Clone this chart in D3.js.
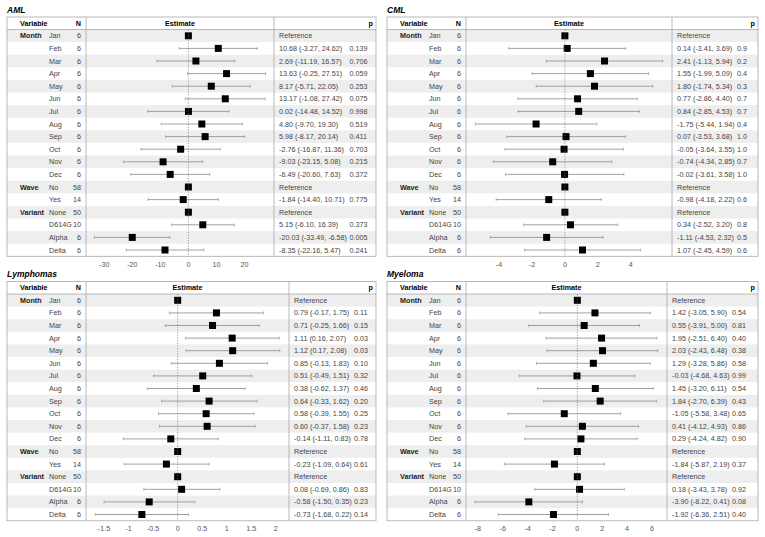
<!DOCTYPE html>
<html>
<head>
<meta charset="utf-8">
<script src="https://cdn.jsdelivr.net/npm/d3@7"></script>
<style>
  body { margin: 0; background: #fff; }
  svg { font-family: "Liberation Sans", Arial, sans-serif; }
</style>
</head>
<body>
<svg id="chart" width="765" height="537"></svg>
<script>
// rows shared by all four models
const groupLabels = ["Month", "", "", "", "", "", "", "", "", "", "", "", "Wave", "", "Variant", "", "", ""];
const levels = ["Jan", "Feb", "Mar", "Apr", "May", "Jun", "Jul", "Aug", "Sep", "Oct", "Nov", "Dec", "No", "Yes", "None", "D614G", "Alpha", "Delta"];
const nCounts = [6, 6, 6, 6, 6, 6, 6, 6, 6, 6, 6, 6, 58, 14, 50, 10, 6, 6];

// null = reference level
const amlEst = [null, 10.68, 2.69, 13.63, 8.17, 13.17, 0.02, 4.80, 5.98, -2.76, -9.03, -6.49, null, -1.84, null, 5.15, -20.03, -8.35];
const amlLo = [null, -3.27, -11.19, -0.25, -5.71, -1.08, -14.48, -9.70, -8.17, -16.87, -23.15, -20.60, null, -14.40, null, -6.10, -33.49, -22.16];
const amlHi = [null, 24.62, 16.57, 27.51, 22.05, 27.42, 14.52, 19.30, 20.14, 11.36, 5.08, 7.63, null, 10.71, null, 16.39, -6.58, 5.47];
const amlP = ["", "0.139", "0.706", "0.059", "0.253", "0.075", "0.998", "0.519", "0.411", "0.703", "0.215", "0.372", "", "0.775", "", "0.373", "0.005", "0.241"];
const amlTicks = [-30, -20, -10, 0, 10, 20];

const cmlEst = [null, 0.14, 2.41, 1.55, 1.80, 0.77, 0.84, -1.75, 0.07, -0.05, -0.74, -0.02, null, -0.98, null, 0.34, -1.11, 1.07];
const cmlLo = [null, -3.41, -1.13, -1.99, -1.74, -2.86, -2.85, -5.44, -3.53, -3.64, -4.34, -3.61, null, -4.18, null, -2.52, -4.53, -2.45];
const cmlHi = [null, 3.69, 5.94, 5.09, 5.34, 4.40, 4.53, 1.94, 3.68, 3.55, 2.85, 3.58, null, 2.22, null, 3.20, 2.32, 4.59];
const cmlP = ["", "0.9", "0.2", "0.4", "0.3", "0.7", "0.7", "0.4", "1.0", "1.0", "0.7", "1.0", "", "0.6", "", "0.8", "0.5", "0.6"];
const cmlTicks = [-4, -2, 0, 2, 4];

const lymEst = [null, 0.79, 0.71, 1.11, 1.12, 0.85, 0.51, 0.38, 0.64, 0.58, 0.60, -0.14, null, -0.23, null, 0.08, -0.58, -0.73];
const lymLo = [null, -0.17, -0.25, 0.16, 0.17, -0.13, -0.49, -0.62, -0.33, -0.39, -0.37, -1.11, null, -1.09, null, -0.69, -1.50, -1.68];
const lymHi = [null, 1.75, 1.66, 2.07, 2.08, 1.83, 1.51, 1.37, 1.62, 1.55, 1.58, 0.83, null, 0.64, null, 0.86, 0.35, 0.22];
const lymP = ["", "0.11", "0.15", "0.03", "0.03", "0.10", "0.32", "0.46", "0.20", "0.25", "0.23", "0.78", "", "0.61", "", "0.83", "0.23", "0.14"];
const lymTicks = [-1.5, -1, -0.5, 0, 0.5, 1, 1.5, 2];

const myeEst = [null, 1.42, 0.55, 1.95, 2.03, 1.29, -0.03, 1.45, 1.84, -1.05, 0.41, 0.29, null, -1.84, null, 0.18, -3.90, -1.92];
const myeLo = [null, -3.05, -3.91, -2.51, -2.43, -3.28, -4.68, -3.20, -2.70, -5.58, -4.12, -4.24, null, -5.87, null, -3.43, -8.22, -6.36];
const myeHi = [null, 5.90, 5.00, 6.40, 6.48, 5.86, 4.63, 6.11, 6.39, 3.48, 4.93, 4.82, null, 2.19, null, 3.78, 0.41, 2.51];
const myeP = ["", "0.54", "0.81", "0.40", "0.38", "0.58", "0.99", "0.54", "0.43", "0.65", "0.86", "0.90", "", "0.37", "", "0.92", "0.08", "0.40"];
const myeTicks = [-8, -6, -4, -2, 0, 2, 4, 6];

const panels = [
  { title: "AML", est: amlEst, lo: amlLo, hi: amlHi, p: amlP, ticks: amlTicks, x0: 7, x1: 376, sep: 274, y0: 0 },
  { title: "CML", est: cmlEst, lo: cmlLo, hi: cmlHi, p: cmlP, ticks: cmlTicks, x0: 387, x1: 758, sep: 672, y0: 0 },
  { title: "Lymphomas", est: lymEst, lo: lymLo, hi: lymHi, p: lymP, ticks: lymTicks, x0: 7, x1: 376, sep: 289, y0: 264.5 },
  { title: "Myeloma", est: myeEst, lo: myeLo, hi: myeHi, p: myeP, ticks: myeTicks, x0: 387, x1: 758, sep: 667, y0: 264.5 }
];

const svg = d3.select("#chart");
const fs = 7.2;
const rowH = 12.6;
const boxTop = 17, headBot = 29.5;

const drawPanel = cfg => {
  const g = svg.append("g").attr("transform", `translate(0, ${cfg.y0})`);
  const sepN = cfg.x0 + 79;
  const boxBot = headBot + rowH * levels.length;

  const all = cfg.lo.concat(cfg.hi).filter(v => v !== null);
  const [mn, mx] = d3.extent(all);
  const pad = (mx - mn) * 0.05;
  const x = d3.scaleLinear().domain([mn - pad, mx + pad]).range([sepN, cfg.sep]);
  const y = d3.scaleBand().domain(d3.range(levels.length)).range([headBot, boxBot]);

  g.append("text")
    .attr("x", cfg.x0).attr("y", 10).attr("dy", "0.35em")
    .style("font-size", "8.5px").style("font-weight", "bold").style("font-style", "italic")
    .text(cfg.title);

  // stripes
  g.selectAll(".stripe")
    .data(d3.range(levels.length).filter(i => i % 2 === 0))
    .enter().append("rect")
    .attr("x", cfg.x0).attr("width", cfg.x1 - cfg.x0)
    .attr("y", i => y(i)).attr("height", y.bandwidth())
    .attr("fill", "#eeeeee");

  // frame
  g.append("rect")
    .attr("x", cfg.x0).attr("y", boxTop)
    .attr("width", cfg.x1 - cfg.x0).attr("height", boxBot - boxTop)
    .attr("fill", "none").attr("stroke", "#a8a8a8").attr("stroke-width", 0.8);
  g.append("line").attr("x1", cfg.x0).attr("x2", cfg.x1).attr("y1", headBot).attr("y2", headBot)
    .attr("stroke", "#a8a8a8").attr("stroke-width", 0.8);
  [sepN, cfg.sep].forEach(sx => {
    g.append("line").attr("x1", sx).attr("x2", sx).attr("y1", boxTop).attr("y2", boxBot)
      .attr("stroke", "#a8a8a8").attr("stroke-width", 0.8);
  });

  // header
  const hy = (boxTop + headBot) / 2;
  const head = g.append("g").style("font-size", fs + "px").style("font-weight", "bold");
  head.append("text").attr("x", cfg.x0 + 13).attr("y", hy).attr("dy", "0.35em").text("Variable");
  head.append("text").attr("x", cfg.x0 + 74).attr("y", hy).attr("dy", "0.35em").attr("text-anchor", "end").text("N");
  head.append("text").attr("x", (sepN + cfg.sep) / 2).attr("y", hy).attr("dy", "0.35em").attr("text-anchor", "middle").text("Estimate");
  head.append("text").attr("x", cfg.x1 - 3).attr("y", hy).attr("dy", "0.35em").attr("text-anchor", "end").text("p");

  const rows = g.selectAll(".row")
    .data(levels.map((lv, i) => ({ i, lv, grp: groupLabels[i], n: nCounts[i], est: cfg.est[i], lo: cfg.lo[i], hi: cfg.hi[i], p: cfg.p[i] })))
    .enter().append("g")
    .attr("transform", d => `translate(0, ${y(d.i) + y.bandwidth() / 2})`)
    .style("font-size", fs + "px");

  rows.append("text").attr("x", cfg.x0 + 13).attr("dy", "0.35em")
    .style("font-weight", "bold").attr("fill", "#222").text(d => d.grp);
  rows.append("text").attr("x", cfg.x0 + 42).attr("dy", "0.35em").attr("fill", "#444").text(d => d.lv);
  rows.append("text").attr("x", cfg.x0 + 74).attr("dy", "0.35em").attr("text-anchor", "end").attr("fill", "#444").text(d => d.n);

  // zero line
  g.append("line").attr("x1", x(0)).attr("x2", x(0)).attr("y1", headBot).attr("y2", boxBot)
    .attr("stroke", "#777").attr("stroke-width", 0.7).attr("stroke-dasharray", "1.2,1.5");

  const ci = rows.filter(d => d.est !== null);
  ci.append("line").attr("x1", d => x(d.lo)).attr("x2", d => x(d.hi))
    .attr("stroke", "#8a8a8a").attr("stroke-width", 0.8);
  ci.append("line").attr("x1", d => x(d.lo)).attr("x2", d => x(d.lo)).attr("y1", -1.5).attr("y2", 1.5)
    .attr("stroke", "#8a8a8a").attr("stroke-width", 0.6);
  ci.append("line").attr("x1", d => x(d.hi)).attr("x2", d => x(d.hi)).attr("y1", -1.5).attr("y2", 1.5)
    .attr("stroke", "#8a8a8a").attr("stroke-width", 0.6);

  rows.append("rect")
    .attr("x", d => x(d.est === null ? 0 : d.est) - 3.5).attr("y", -3.5)
    .attr("width", 7).attr("height", 7).attr("fill", "#000");

  const ciText = rows.append("text").attr("x", cfg.sep + 5).attr("dy", "0.35em").attr("fill", "#444")
    .text(d => d.est === null ? "Reference" : `${d.est.toFixed(2)} (${d.lo.toFixed(2)}, ${d.hi.toFixed(2)})`);
  let maxW = 0;
  ciText.filter(d => d.est !== null).each(function () { maxW = Math.max(maxW, this.getComputedTextLength()); });
  rows.append("text").attr("x", cfg.sep + 5 + maxW + 2.5).attr("dy", "0.35em").attr("fill", "#444").text(d => d.p);

  // axis labels
  g.selectAll(".tick")
    .data(cfg.ticks)
    .enter().append("text")
    .attr("x", d => x(d)).attr("y", boxBot + 8).attr("dy", "0.35em")
    .attr("text-anchor", "middle").style("font-size", fs + "px").attr("fill", "#555")
    .text(d => d);
};

panels.forEach(drawPanel);
</script>
</body>
</html>
